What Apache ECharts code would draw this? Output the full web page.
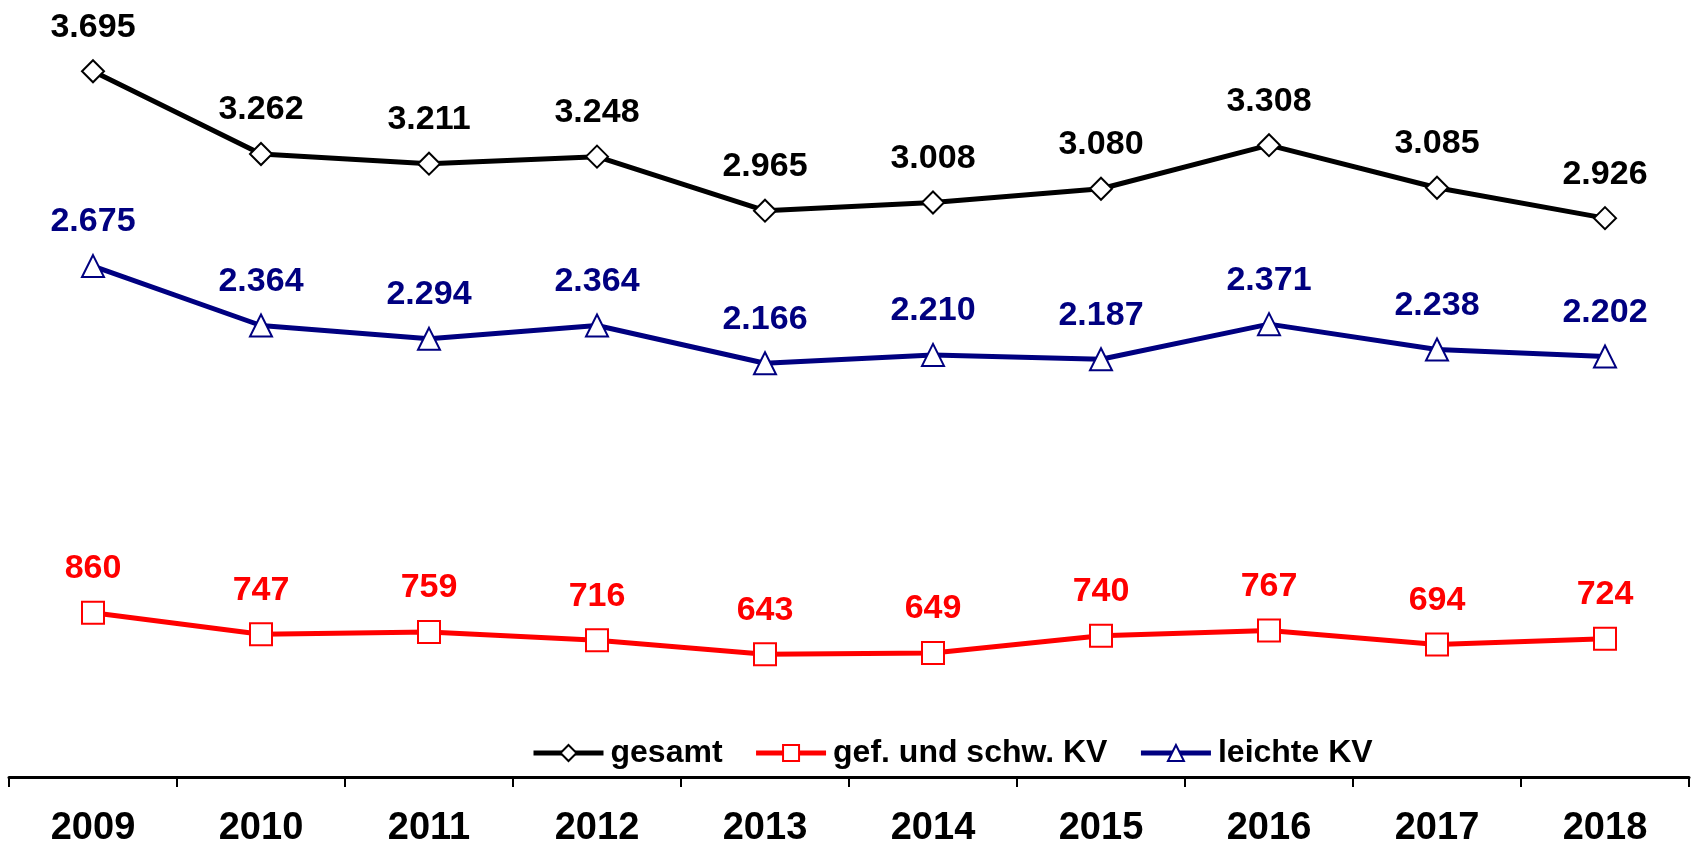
<!DOCTYPE html>
<html>
<head>
<meta charset="utf-8">
<script src="https://cdn.jsdelivr.net/npm/echarts@6/dist/echarts.min.js"></script>
<style>
	html, body { margin: 0; padding: 0; background: #fff; }
	#main { width: 1696px; height: 846px; }
</style>
</head>
<body>
<div id="main"></div>
<script>
var years = ['2009', '2010', '2011', '2012', '2013', '2014', '2015', '2016', '2017', '2018'];
var gesamt = [3695, 3262, 3211, 3248, 2965, 3008, 3080, 3308, 3085, 2926];
var gefSchw = [860, 747, 759, 716, 643, 649, 740, 767, 694, 724];
var leichte = [2675, 2364, 2294, 2364, 2166, 2210, 2187, 2371, 2238, 2202];

var fontName = '"Liberation Sans", Arial, sans-serif';

// 3695 -> "3.695"
function deZahl(v) {
	return String(v).replace(/\B(?=(\d{3})+(?!\d))/g, '.');
}

function makeLine(name, data, color, symbol, size) {
	return {
		name: name,
		type: 'line',
		data: data,
		symbol: symbol,
		symbolSize: size,
		showAllSymbol: true,
		lineStyle: { color: color, width: 5 },
		itemStyle: { color: '#fff', borderColor: color, borderWidth: 2 },
		emphasis: { disabled: true },
		label: {
			show: true,
			position: 'top',
			distance: 15,
			color: color,
			fontFamily: fontName,
			fontWeight: 'bold',
			fontSize: 34,
			formatter: function (p) { return deZahl(p.value); }
		}
	};
}

var myChart = echarts.init(document.getElementById('main'));
var option = {
	animation: false,
	backgroundColor: '#fff',
	grid: { left: 9, right: 7, top: 13, bottom: 64, containLabel: false, outerBoundsMode: 'none' },
	legend: {
		left: 526,
		top: 732,
		itemWidth: 70,
		itemHeight: 20,
		itemGap: 31,
		lineStyle: { width: 5 },
		textStyle: {
			color: '#000',
			fontFamily: fontName,
			fontWeight: 'bold',
			fontSize: 32,
			padding: [0, 0, 0, 2]
		},
		data: ['gesamt', 'gef. und schw. KV', 'leichte KV']
	},
	xAxis: {
		type: 'category',
		data: years,
		boundaryGap: true,
		axisLine: { lineStyle: { color: '#000', width: 3 } },
		axisTick: { show: true, inside: false, length: 10, lineStyle: { color: '#000', width: 2 } },
		axisLabel: {
			color: '#000',
			fontFamily: fontName,
			fontWeight: 'bold',
			fontSize: 38,
			margin: 28
		}
	},
	yAxis: {
		type: 'value',
		min: -26,
		max: 4000,
		show: false,
		splitLine: { show: false }
	},
	series: [
		makeLine('gesamt', gesamt, '#000000', 'diamond', 22),
		makeLine('gef. und schw. KV', gefSchw, '#ff0000', 'rect', 22),
		makeLine('leichte KV', leichte, '#000080', 'triangle', 22)
	]
};
myChart.setOption(option);
</script>
</body>
</html>
